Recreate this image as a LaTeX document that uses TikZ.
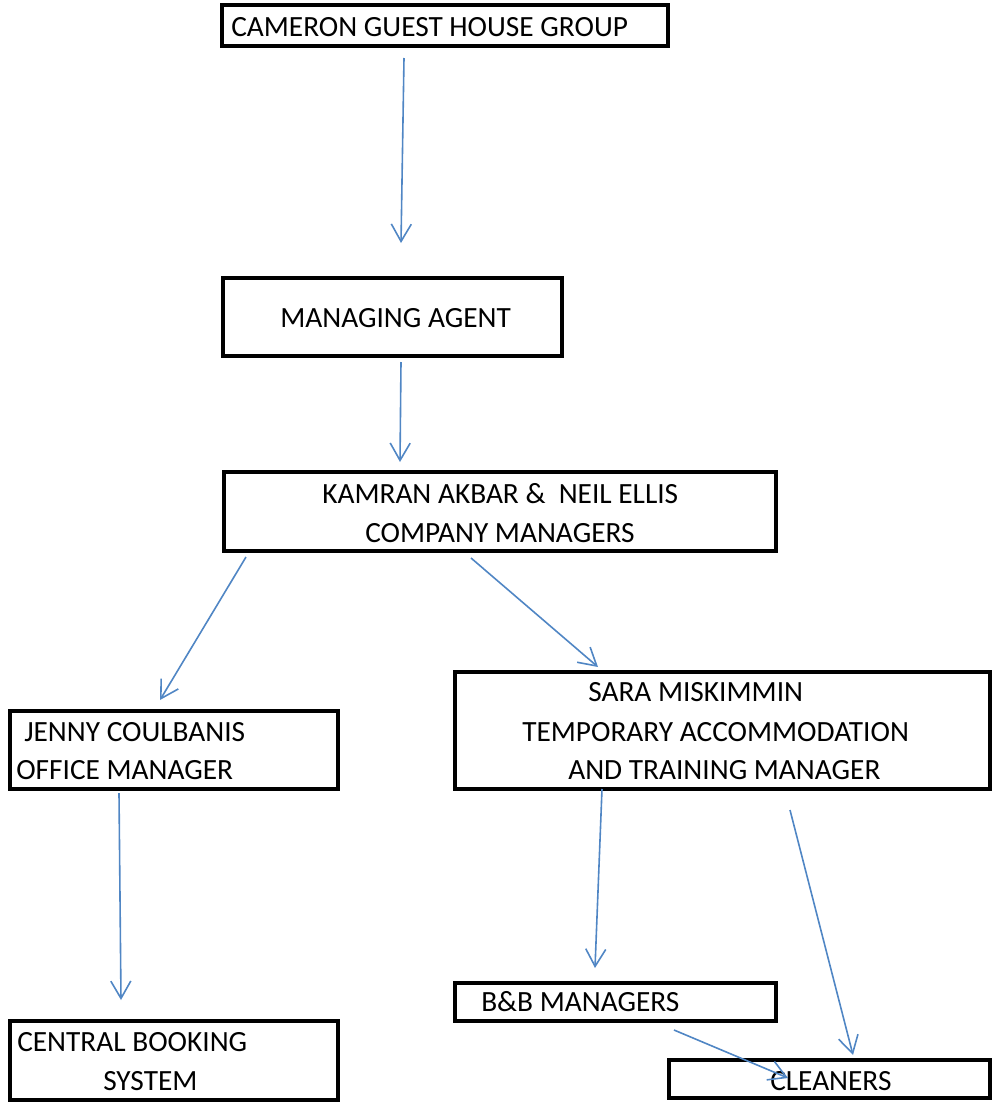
\documentclass[tikz,border=0pt]{standalone}
\usepackage{fontspec}
\setmainfont{Carlito}
\usetikzlibrary{arrows.meta,fit}
\definecolor{lineblue}{RGB}{80,134,196}
\tikzset{
  box/.style={draw=black, line width=2.6pt, inner sep=0pt, fit={#1}},
  txt/.style={anchor=base west, inner sep=0pt, font=\fontsize{22}{26}\selectfont},
  conn/.style={draw=lineblue, line width=1.2pt, -{Straight Barb[length=13pt,width=15pt,line width=1.2pt]}}
}
\begin{document}
\begin{tikzpicture}[x=0.75pt,y=-0.75pt]
\useasboundingbox (0,0) rectangle (999,1103);
% boxes
\node[box={(222,5) (668,46)}] (cam) {};
\node[box={(223,278) (562,356)}] (ma) {};
\node[box={(224,472) (776,551)}] (km) {};
\node[box={(10,711) (338,789)}] (jc) {};
\node[box={(455,672) (990,789)}] (sm) {};
\node[box={(10,1021) (338,1100)}] (cb) {};
\node[box={(455,983) (776,1021)}] (bb) {};
\node[box={(669,1060) (990,1098)}] (cl) {};
% texts
\node[txt] (t1) at (231,36) {CAMERON GUEST HOUSE GROUP};
\node[txt] (t2) at (280,327) {MANAGING AGENT};
\node[txt] (t3) at (322,503) {KAMRAN AKBAR \&\ \ NEIL ELLIS};
\node[txt] (t4) at (365,542) {COMPANY MANAGERS};
\node[txt] (t5) at (588,701) {SARA MISKIMMIN};
\node[txt] (t6) at (522,741) {TEMPORARY ACCOMMODATION};
\node[txt] (t7) at (568,779) {AND TRAINING MANAGER};
\node[txt] (t8) at (24,741) {JENNY COULBANIS};
\node[txt] (t9) at (16,779) {OFFICE MANAGER};
\node[txt] (t10) at (17,1051) {CENTRAL BOOKING};
\node[txt] (t11) at (103,1090) {SYSTEM};
\node[txt] (t12) at (481,1011) {B\&B MANAGERS};
\node[txt] (t13) at (770,1090) {CLEANERS};
% connector end points
\coordinate (a1s) at (404,58);   \coordinate (a1e) at (401,243);
\coordinate (a2s) at (401,362);  \coordinate (a2e) at (400,462);
\coordinate (a3s) at (246,557);  \coordinate (a3e) at (160,700);
\coordinate (a4s) at (471,558);  \coordinate (a4e) at (598,667);
\coordinate (a5s) at (119,793);  \coordinate (a5e) at (121,1000);
\coordinate (a6s) at (602,789);  \coordinate (a6e) at (595,968);
\coordinate (a7s) at (790,810);  \coordinate (a7e) at (853,1055);
\coordinate (a8s) at (674,1030); \coordinate (a8e) at (788,1078);
% connectors
\draw[conn] (a1s) -- (a1e);
\draw[conn] (a2s) -- (a2e);
\draw[conn] (a3s) -- (a3e);
\draw[conn] (a4s) -- (a4e);
\draw[conn] (a5s) -- (a5e);
\draw[conn] (a6s) -- (a6e);
\draw[conn] (a7s) -- (a7e);
\draw[conn] (a8s) -- (a8e);
\end{tikzpicture}
\end{document}
